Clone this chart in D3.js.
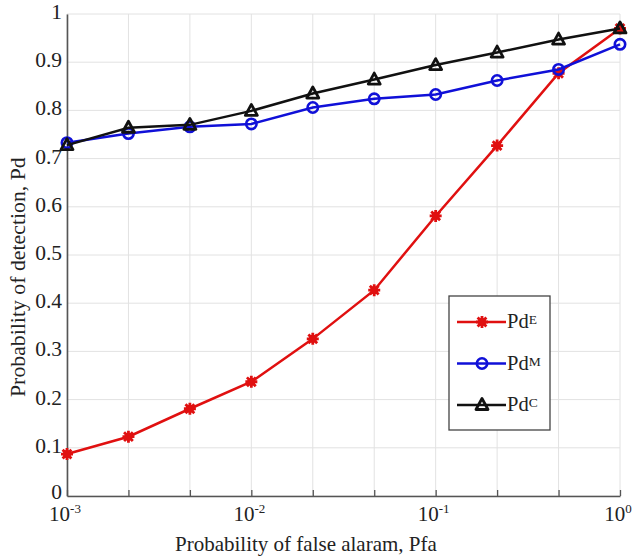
<!DOCTYPE html>
<html><head><meta charset="utf-8">
<script src="https://cdn.jsdelivr.net/npm/d3@7"></script>
<style>body{margin:0;background:#fff}svg{display:block}</style>
</head><body><div id="chart"></div>
<script>
const pfaExponents = [-3, -8/3, -7/3, -2, -5/3, -4/3, -1, -2/3, -1/3, 0];
const pfa = pfaExponents.map(e => Math.pow(10, e));
const pdE = [0.087, 0.123, 0.181, 0.237, 0.326, 0.427, 0.581, 0.727, 0.877, 0.970];
const pdM = [0.733, 0.752, 0.766, 0.772, 0.806, 0.824, 0.833, 0.862, 0.885, 0.937];
const pdC = [0.728, 0.764, 0.770, 0.799, 0.835, 0.864, 0.894, 0.920, 0.947, 0.970];
const yTicks = [0, 0.1, 0.2, 0.3, 0.4, 0.5, 0.6, 0.7, 0.8, 0.9, 1];
const xLabelExps = [-3, -2, -1, 0];
const seriesNames = ["E", "M", "C"];

const FONT = "Liberation Serif, Tinos, Times New Roman, Times, DejaVu Serif, serif";
const W = 634, H = 559;
const m = {left: 67, right: 14, top: 14, bottom: 63};
const svg = d3.select("#chart").append("svg").attr("width", W).attr("height", H)
  .attr("font-family", FONT);

const x = d3.scaleLog().domain([1e-3, 1]).range([m.left, W - m.right]);
const y = d3.scaleLinear().domain([0, 1]).range([H - m.bottom, m.top]);

// grid
const g = svg.append("g");
g.selectAll("line.vg").data(pfa).join("line")
  .attr("x1", d => x(d)).attr("x2", d => x(d))
  .attr("y1", y(0)).attr("y2", y(1))
  .attr("stroke", "#e2e2e2").attr("stroke-width", 1);
g.selectAll("line.hg").data(yTicks).join("line")
  .attr("x1", x(1e-3)).attr("x2", x(1))
  .attr("y1", d => y(d)).attr("y2", d => y(d))
  .attr("stroke", "#e2e2e2").attr("stroke-width", 1);

// axes
const xAxis = svg.append("g").attr("transform", `translate(0,${y(0)})`)
  .call(d3.axisBottom(x).tickValues(pfa).tickSizeInner(-6).tickSizeOuter(0).tickFormat(""));
const yAxis = svg.append("g").attr("transform", `translate(${x(1e-3)},0)`)
  .call(d3.axisLeft(y).tickValues(yTicks).tickSizeInner(0).tickSizeOuter(0).tickFormat(""));
[xAxis, yAxis].forEach(a => {
  a.select(".domain").attr("stroke", "#555").attr("stroke-width", 1.6);
  a.selectAll(".tick line").attr("stroke", "#555").attr("stroke-width", 1.3);
});

// y tick labels
svg.selectAll("text.yl").data(yTicks).join("text")
  .attr("font-family", FONT)
  .attr("x", x(1e-3) - 5).attr("y", d => y(d) + (d === 0 ? 3 : 5))
  .attr("text-anchor", "end").attr("font-size", 21.5).attr("fill", "#222")
  .text(d => d === 0 || d === 1 ? String(d) : d.toFixed(1));

// x tick labels 10^k
const xl = svg.selectAll("text.xl").data(xLabelExps).join("text")
  .attr("font-family", FONT)
  .attr("x", d => x(Math.pow(10, d)) - 2).attr("y", y(0) + 25)
  .attr("text-anchor", "middle").attr("font-size", 21).attr("fill", "#222");
xl.append("tspan").text("10");
xl.append("tspan").attr("dy", -8).attr("font-size", 13).text(d => String(d));

// axis titles
svg.append("text").attr("font-family", FONT)
  .attr("x", 175).attr("y", 551)
  .attr("text-anchor", "start").attr("font-size", 21).attr("fill", "#222")
  .text("Probability of false alaram, Pfa");
svg.append("text").attr("font-family", FONT)
  .attr("transform", "translate(25,397) rotate(-90)")
  .attr("text-anchor", "start").attr("font-size", 21.8).attr("fill", "#222")
  .text("Probability of detection, Pd");

// series
const series = [
  {name: seriesNames[0], vals: pdE, color: "#e01010", marker: "star"},
  {name: seriesNames[1], vals: pdM, color: "#1010d8", marker: "circle"},
  {name: seriesNames[2], vals: pdC, color: "#111111", marker: "triangle"}
];
const line = d3.line().x(d => x(d[0])).y(d => y(d[1]));

function drawMarker(sel, type, color) {
  if (type === "star") {
    sel.append("circle").attr("r", 4).attr("fill", color);
    sel.append("path").attr("d", "M-6,0H6M0,-6V6M-4.4,-4.4L4.4,4.4M-4.4,4.4L4.4,-4.4")
      .attr("stroke", color).attr("stroke-width", 2.8);
  } else if (type === "circle") {
    sel.append("circle").attr("r", 5.2).attr("fill", "none")
      .attr("stroke", color).attr("stroke-width", 2.6);
  } else {
    sel.append("path").attr("d", "M0,-6.5L6,4.5L-6,4.5Z").attr("fill", "none")
      .attr("stroke", color).attr("stroke-width", 2.8).attr("stroke-linejoin", "round");
  }
}

series.forEach(s => {
  const pts = pfa.map((p, i) => [p, s.vals[i]]);
  svg.append("path").datum(pts).attr("d", line)
    .attr("fill", "none").attr("stroke", s.color).attr("stroke-width", 2.5);
  svg.selectAll(null).data(pts).join("g")
    .attr("transform", d => `translate(${x(d[0])},${y(d[1])})`)
    .each(function() { drawMarker(d3.select(this), s.marker, s.color); });
});

// legend
const lg = svg.append("g").attr("transform", "translate(449,296)");
lg.append("rect").attr("width", 101).attr("height", 134)
  .attr("fill", "#fff").attr("stroke", "#444").attr("stroke-width", 1.3);
series.forEach((s, i) => {
  const yy = 26 + i * 41.5;
  lg.append("line").attr("x1", 8).attr("x2", 57).attr("y1", yy).attr("y2", yy)
    .attr("stroke", s.color).attr("stroke-width", 2.5);
  const mk = lg.append("g").attr("transform", `translate(33,${yy})`);
  drawMarker(mk, s.marker, s.color);
  const t = lg.append("text").attr("font-family", FONT).attr("x", 58).attr("y", yy + 6)
    .attr("font-size", 20.5).attr("fill", "#222");
  t.append("tspan").text("Pd");
  t.append("tspan").attr("dy", -4).attr("font-size", 13.5).text(s.name);
});
</script></body></html>
